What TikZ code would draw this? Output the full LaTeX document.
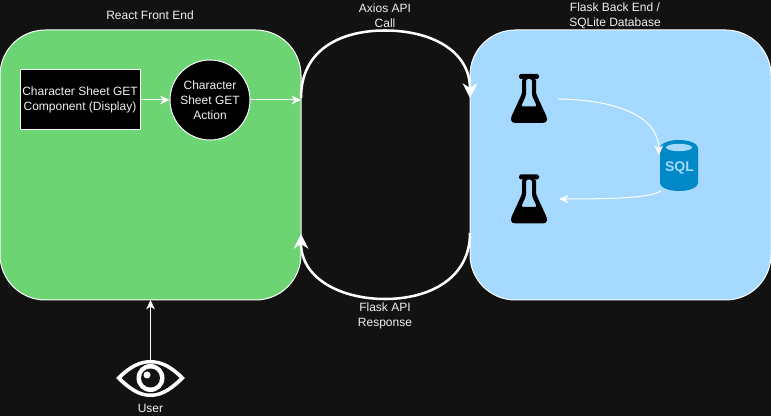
\documentclass[tikz,border=0pt]{standalone}
\usepackage{fontspec}
\setmainfont{Liberation Sans}
\usetikzlibrary{arrows.meta,positioning}
\definecolor{bgdark}{HTML}{121212}
\definecolor{greenbox}{HTML}{6DD474}
\definecolor{bluebox}{HTML}{A6D9FF}
\definecolor{sqlblue}{HTML}{0089C6}
\definecolor{labeltext}{HTML}{F0F0F0}
\tikzset{
  panel/.style={draw=white,line width=0.75pt,rounded corners=34pt,minimum width=225.75pt,minimum height=202.5pt,inner sep=0pt},
  textlabel/.style={text=labeltext,font=\fontsize{9}{11.25}\selectfont,align=center,inner sep=0pt},
  blackbox/.style={draw=white,line width=0.75pt,fill=black,text=labeltext,font=\fontsize{9}{11.25}\selectfont,align=center,inner sep=0pt,minimum width=90pt,minimum height=45pt},
  blackdisc/.style={circle,draw=white,line width=0.75pt,fill=black,text=labeltext,font=\fontsize{9}{11.25}\selectfont,align=center,inner sep=0pt,minimum size=60pt},
  thin arrow/.style={draw=white,line width=0.75pt,-{Stealth[length=7pt,width=6.5pt,inset=2pt]}},
  thick arrow/.style={draw=white,line width=1.9pt,-{Stealth[length=11pt,width=11pt,inset=3.5pt]}},
  anchorpt/.style={inner sep=0pt,minimum size=0pt},
  flask/.pic={
    \fill[black,rounded corners=1.2pt] (-10,-24.5) rectangle (10,-19.5);
    \fill[black,even odd rule,rounded corners=1.2pt]
      (-7,-20) -- (-7,-5) -- (-18,19) -- (-18,23) -- (-15,24.5) -- (15,24.5) -- (18,23) -- (18,19) -- (7,-5) -- (7,-20) -- cycle
      (-3,-19.5) -- (-3,-3) -- (-8,8) -- (8,8) -- (3,-3) -- (3,-19.5) -- cycle;
  },
}
\begin{document}
\begin{tikzpicture}[x=0.75pt,y=-0.75pt]
\useasboundingbox (0,0) rectangle (771,416);
\fill[bgdark] (0,0) rectangle (771,416);
% panels
\node[panel,fill=greenbox] (front) at (150.5,165) {};
\node[panel,fill=bluebox] (back) at (620.5,165) {};
% inner nodes
\node[blackbox] (comp) at (80,100) {Character Sheet GET\\Component (Display)};
\node[blackdisc] (action) at (210,100) {Character\\Sheet GET\\Action};
% flasks
\node[anchorpt] (flaskA) at (529,98.5) {};
\node[anchorpt] (flaskB) at (529,199) {};
\pic at (flaskA) {flask};
\pic at (flaskB) {flask};
\coordinate (flaskAout) at (558,99);
\coordinate (flaskBin) at (559,199);
% SQL cylinder
\node[anchorpt] (sql) at (679,165.5) {};
\fill[sqlblue] (660,148) arc[x radius=19,y radius=8,start angle=180,end angle=360] -- (698,183) arc[x radius=19,y radius=8,start angle=0,end angle=180] -- cycle;
\fill[bluebox] (679,147.5) ellipse[x radius=13,y radius=3.7];
\node[text=bluebox,font=\fontsize{10.5}{12}\bfseries\selectfont,inner sep=0pt] (sqltext) at (679.5,167.5) {SQL};
\coordinate (sqlin) at (659,155);
\coordinate (sqlout) at (661,191);
% eye
\node[anchorpt] (eye) at (150.5,378) {};
\fill[white] (116,378) .. controls (128,366) and (138,360) .. (150.5,360) .. controls (163,360) and (173,366) .. (185,378) .. controls (173,390) and (163,397) .. (150.5,397) .. controls (138,397) and (128,390) .. (116,378) -- cycle;
\fill[bgdark] (121.5,378) .. controls (131,369) and (140,363.5) .. (150.5,363.5) .. controls (161,363.5) and (170,369) .. (179.5,378) .. controls (170,387) and (161,393.5) .. (150.5,393.5) .. controls (140,393.5) and (131,387) .. (121.5,378) -- cycle;
\fill[white] (150.5,378) circle[radius=14];
\fill[bgdark] (150.5,378) circle[radius=9.5];
\fill[white] (147,375) circle[radius=3.5];
% connectors
\draw[thin arrow] (comp) -- (action);
\coordinate (frontin) at (301,100);
\draw[thin arrow] (action) -- (frontin);
\coordinate (axiosA) at (301,98);
\coordinate (axiosB) at (470,98);
\draw[thick arrow] (axiosA) .. controls (301,50) and (340,30.5) .. (385,30.5) .. controls (430,30.5) and (470,50) .. (axiosB);
\coordinate (flaskApiA) at (470,233);
\coordinate (flaskApiB) at (301,234);
\draw[thick arrow] (flaskApiA) .. controls (470,278) and (430,299) .. (385,299) .. controls (340,299) and (301,278) .. (flaskApiB);
\draw[thin arrow] (flaskAout) .. controls (615,100) and (658,115) .. (sqlin);
\draw[thin arrow] (sqlout) .. controls (650,198) and (610,199) .. (flaskBin);
\coordinate (eyetop) at (150.5,360);
\coordinate (frontbottom) at (150.5,300);
\draw[thin arrow] (eyetop) -- (frontbottom);
% labels
\node[textlabel] (l1) at (150,15) {React Front End};
\node[textlabel] (l2) at (385,15.5) {Axios API\\Call};
\node[textlabel] (l3) at (615,15.5) {Flask Back End /\\SQLite Database};
\node[textlabel] (l4) at (385,316) {Flask API\\Response};
\node[textlabel] (l5) at (150.5,408.5) {User};
\end{tikzpicture}
\end{document}
